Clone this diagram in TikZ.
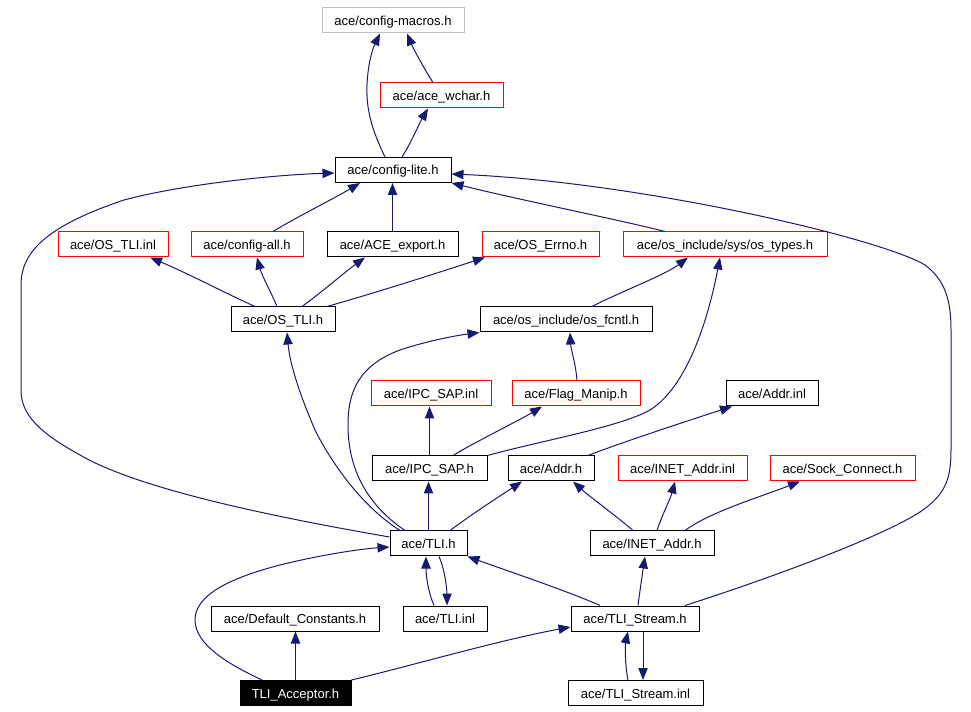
\documentclass[tikz,border=0pt]{standalone}
\usepackage{fontspec}
\setmainfont{Liberation Sans}
\usetikzlibrary{arrows.meta,calc}
\definecolor{edgeblue}{HTML}{191970}
\definecolor{nodered}{HTML}{FF0000}
\definecolor{nodegray}{HTML}{BFBFBF}
\begin{document}
\begin{tikzpicture}[x=0.75pt,y=-0.75pt,
  box/.style={rectangle, line width=0.75pt, minimum height=18.75pt, inner sep=0pt,
    text height=7.5pt, text depth=0pt,
    font=\fontsize{9.75}{11}\selectfont, anchor=center},
  w/.style={minimum width=#1*0.75pt},
  redbox/.style={box,draw=nodered},
  blackbox/.style={box,draw=black},
  graybox/.style={box,draw=nodegray},
  accbox/.style={box,draw=black,fill=black,text=white},
  dep/.style={draw=edgeblue, line width=0.75pt, -{Triangle[length=9pt,width=7pt]}}
]
\useasboundingbox[fill=white] (0,0) rectangle (971,712);

% nodes
\node[graybox,w=142] (cfgmacros) at (393,20.5) {ace/config-macros.h};
\node[redbox,w=123] (wchar) at (441.5,95.5) {ace/ace\_wchar.h};
\node[blackbox,w=116] (cfglite) at (393,170) {ace/config-lite.h};
\node[redbox,w=110] (osinl) at (113,244.5) {ace/OS\_TLI.inl};
\node[redbox,w=112] (cfgall) at (247,244.5) {ace/config-all.h};
\node[blackbox,w=131] (aceexp) at (392.5,244.5) {ace/ACE\_export.h};
\node[redbox,w=117] (oserrno) at (540.5,244.5) {ace/OS\_Errno.h};
\node[redbox,w=204] (ostypes) at (725,244.5) {ace/os\_include/sys/os\_types.h};
\node[blackbox,w=104] (ostlih) at (283,319.5) {ace/OS\_TLI.h};
\node[blackbox,w=172] (osfcntl) at (566,319.5) {ace/os\_include/os\_fcntl.h};
\node[redbox,w=120] (ipcinl) at (431,393.5) {ace/IPC\_SAP.inl};
\node[redbox,w=128] (flag) at (576,393.5) {ace/Flag\_Manip.h};
\node[blackbox,w=92] (addrinl) at (772,393.5) {ace/Addr.inl};
\node[blackbox,w=115] (ipch) at (429.5,468.5) {ace/IPC\_SAP.h};
\node[blackbox,w=86] (addrh) at (551,468.5) {ace/Addr.h};
\node[redbox,w=129] (inetinl) at (682.5,468.5) {ace/INET\_Addr.inl};
\node[redbox,w=145] (sock) at (842.5,468.5) {ace/Sock\_Connect.h};
\node[blackbox,w=77] (tlih) at (428.5,543.5) {ace/TLI.h};
\node[blackbox,w=124] (ineth) at (652,543.5) {ace/INET\_Addr.h};
\node[blackbox,w=168] (defc) at (295,618.5) {ace/Default\_Constants.h};
\node[blackbox,w=84] (tliinl) at (445,618.5) {ace/TLI.inl};
\node[blackbox,w=128] (streamh) at (635,618.5) {ace/TLI\_Stream.h};
\node[accbox,w=111] (acc) at (295.5,693) {TLI\_Acceptor.h};
\node[blackbox,w=135] (streaminl) at (635.5,693) {ace/TLI\_Stream.inl};

% edges
\draw[dep] ($(wchar.north)+(-8.5,0)$) .. controls (426,72) and (413,48) .. ($(cfgmacros.south)+(14,0)$);
\draw[dep] ($(cfglite.north)+(-8,0)$) .. controls (372,130) and (366,110) .. (367,85) .. controls (368,62) and (373,48) .. ($(cfgmacros.south)+(-13,0)$);
\draw[dep] ($(cfglite.north)+(9,0)$) .. controls (411,143) and (420,122) .. ($(wchar.south)+(-13.5,0)$);
\draw[dep] ($(cfgall.north)+(26,0)$) .. controls (295,218) and (335,198) .. ($(cfglite.south)+(-33,0)$);
\draw[dep] (aceexp.north) -- (aceexp.north |- cfglite.south);
\draw[dep] ($(ostypes.north)+(-60,0)$) .. controls (620,220) and (520,200) .. (cfglite.south east);
\draw[dep] ($(streamh.north)+(50,0)$) .. controls (780,575) and (885,535) .. (920,512) .. controls (945,495) and (951,480) .. (951,450) -- (951,330) .. controls (951,300) and (945,280) .. (925,265) .. controls (880,238) and (640,182) .. ($(cfglite.east)+(0,4)$);
\draw[dep] ($(ostlih.north)+(-28,0)$) .. controls (225,293) and (185,272) .. ($(osinl.south)+(37,0)$);
\draw[dep] ($(ostlih.north)+(-6,0)$) .. controls (271,292) and (262,276) .. ($(cfgall.south)+(10,0)$);
\draw[dep] ($(ostlih.north)+(19,0)$) .. controls (322,292) and (345,272) .. ($(aceexp.south)+(-27.5,0)$);
\draw[dep] ($(ostlih.north)+(44,0)$) .. controls (385,290) and (440,272) .. ($(oserrno.south)+(-55.5,0)$);
\draw[dep] ($(osfcntl.north)+(26,0)$) .. controls (620,292) and (665,275) .. ($(ostypes.south)+(-37,0)$);
\draw[dep] (ipch.north east) .. controls (540,441) and (620,427) .. (650,410) .. controls (690,385) and (710,310) .. ($(ostypes.south)+(-5,0)$);
\draw[dep] ($(flag.north)+(1,0)$) .. controls (576,365) and (571,350) .. ($(osfcntl.south)+(4,0)$);
\draw[dep] (ipch.north) -- (ipch.north |- ipcinl.south);
\draw[dep] ($(ipch.north)+(23.5,0)$) .. controls (475,442) and (520,420) .. ($(flag.south)+(-34,0)$);
\draw[dep] (tlih.north) -- (tlih.north |- ipch.south);
\draw[dep] ($(tlih.north)+(21.5,0)$) .. controls (472,514) and (500,496) .. ($(addrh.south)+(-29,0)$);
\draw[dep] ($(tlih.north)+(-28.5,0)$) .. controls (360,505) and (330,460) .. (315,430) .. controls (300,395) and (290,365) .. ($(ostlih.south)+(4,0)$);
\draw[dep] ($(tlih.north)+(-23.5,0)$) .. controls (360,500) and (348,460) .. (348,425) .. controls (348,390) and (360,365) .. (400,350) .. controls (430,340) and (460,335) .. (osfcntl.south west);
\draw[dep] ($(ineth.north)+(-19,0)$) .. controls (615,515) and (590,497) .. ($(addrh.south)+(22,0)$);
\draw[dep] ($(ineth.north)+(5,0)$) .. controls (662,515) and (670,500) .. ($(inetinl.south)+(-7.5,0)$);
\draw[dep] ($(ineth.north)+(33,0)$) .. controls (710,512) and (760,497) .. ($(sock.south)+(-42.5,0)$);
\draw[dep] ($(addrh.north)+(37,0)$) .. controls (620,443) and (690,420) .. ($(addrinl.south)+(-40,0)$);
\draw[dep] ($(tlih.south)+(10.5,0)$) .. controls (445,570) and (447,590) .. ($(tliinl.north)+(2,0)$);
\draw[dep] ($(tliinl.north)+(-11,0)$) .. controls (428,592) and (426,575) .. ($(tlih.south)+(-2.5,0)$);
\draw[dep] ($(streamh.north)+(-35,0)$) .. controls (570,592) and (505,570) .. (tlih.south east);
\draw[dep] ($(streamh.north)+(3,0)$) .. controls (640,590) and (643,570) .. ($(ineth.south)+(-7,0)$);
\draw[dep] ($(streamh.south)+(8,0)$) -- ($(streaminl.north)+(7.5,0)$);
\draw[dep] ($(streaminl.north)+(-7.5,0)$) .. controls (625,665) and (625,645) .. ($(streamh.south)+(-7,0)$);
\draw[dep] (acc.north) -- (acc.north |- defc.south);
\draw[dep] ($(acc.north)+(-33.5,0)$) .. controls (230,665) and (195,645) .. (195,620) .. controls (195,595) and (230,578) .. (280,565) .. controls (320,555) and (360,549) .. ($(tlih.west)+(0,3.5)$);
\draw[dep] (acc.north east) .. controls (410,666) and (500,640) .. ($(streamh.west)+(0,8.5)$);
\draw[dep] ($(tlih.west)+(0,-6.5)$) .. controls (280,518) and (140,490) .. (80,455) .. controls (40,433) and (21,415) .. (21,390) -- (21,285) .. controls (21,250) and (50,225) .. (124,200) .. controls (180,185) and (270,175) .. ($(cfglite.west)+(0,3)$);
\end{tikzpicture}
\end{document}
